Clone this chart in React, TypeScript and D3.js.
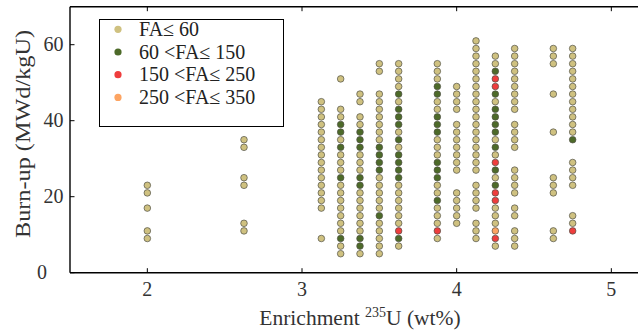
import React from "react";
import * as d3 from "d3";

const W = 638;
const H = 334;

// Enrichment (wt% U-235) of each fuel-assembly group
const enrichment = [2.0, 2.625, 3.125, 3.25, 3.375, 3.5, 3.625, 3.875, 4.0, 4.125, 4.25, 4.375, 4.625, 4.75];

// Burn-up values (MWd/kgU) present at each enrichment
const burnup: number[][] = [
  [23, 21, 17, 11, 9],
  [35, 33, 25, 23, 13, 11],
  [45, 43, 41, 39, 37, 35, 33, 31, 29, 27, 25, 23, 21, 19, 17, 9],
  [51, 43, 41, 39, 37, 35, 33, 31, 29, 27, 25, 23, 21, 19, 17, 15, 13, 11, 9, 7, 5],
  [47, 45, 41, 39, 37, 35, 33, 31, 29, 27, 25, 23, 21, 19, 17, 15, 13, 11, 9, 7, 5],
  [55, 53, 47, 45, 43, 41, 39, 37, 35, 33, 31, 29, 27, 25, 23, 21, 19, 17, 15, 13, 11, 9, 7, 5],
  [55, 53, 51, 49, 47, 45, 43, 41, 39, 37, 35, 33, 31, 29, 27, 25, 23, 21, 19, 17, 15, 13, 11, 9, 7],
  [55, 53, 51, 49, 47, 45, 43, 41, 39, 37, 35, 33, 31, 29, 27, 25, 23, 21, 19, 17, 15, 13, 11, 9],
  [49, 47, 45, 43, 39, 37, 35, 33, 31, 29, 27, 21, 19, 17, 15, 13],
  [61, 59, 57, 55, 53, 51, 49, 47, 45, 43, 41, 39, 37, 35, 33, 31, 29, 27, 23, 21, 19, 17, 13, 11, 9],
  [57, 55, 53, 51, 49, 47, 45, 43, 41, 39, 37, 35, 33, 31, 29, 27, 25, 23, 21, 19, 17, 15, 13, 11, 9, 7],
  [59, 57, 55, 53, 51, 49, 47, 45, 43, 39, 37, 35, 33, 27, 25, 23, 21, 17, 15, 11, 9, 7],
  [59, 57, 55, 47, 37, 25, 23, 21, 11, 9],
  [59, 57, 55, 53, 51, 49, 47, 45, 43, 41, 39, 37, 35, 29, 27, 25, 23, 15, 13, 11],
];

// Burn-ups whose assembly count falls in 60 < FA ≤ 150
const faMid: number[][] = [
  [], [], [],
  [39, 37, 33, 25, 9],
  [37, 35, 33, 25, 23, 9, 7],
  [33, 31, 29, 27, 15],
  [47, 43, 41, 39, 35, 31, 29, 27, 25, 9],
  [49, 47, 41, 39, 37, 29, 27, 25, 19],
  [], [],
  [53, 47, 43, 41, 39, 37, 33, 27, 23],
  [], [],
  [35],
];

// Burn-ups in 150 < FA ≤ 250
const faHigh: number[][] = [
  [], [], [], [], [], [],
  [11],
  [11],
  [], [],
  [51, 49, 29, 21, 19, 9],
  [], [],
  [11],
];

// Burn-ups in 250 < FA ≤ 350
const faTop: number[][] = [
  [], [], [], [], [], [], [], [], [], [],
  [11],
  [], [], [],
];

const classLabels = ["FA≤ 60", "60 <FA≤ 150", "150 <FA≤ 250", "250 <FA≤ 350"];
const classColors = ["#cfc180", "#4d6a29", "#ef3d3d", "#fda462"];

const xTicks = [2, 3, 4, 5];
const yTicks = [0, 20, 40, 60];

const FONT = "'Liberation Serif', 'DejaVu Serif', serif";

type Pt = { x: number; y: number; cls: number };

function buildPoints(): Pt[] {
  const pts: Pt[] = [];
  enrichment.forEach((e, i) => {
    burnup[i].forEach((b) => {
      let cls = 0;
      if (faMid[i].includes(b)) cls = 1;
      if (faHigh[i].includes(b)) cls = 2;
      if (faTop[i].includes(b)) cls = 3;
      pts.push({ x: e, y: b, cls });
    });
  });
  // draw classes in series order
  return pts.sort((a, b) => a.cls - b.cls);
}

export default function App() {
  const left = 70;
  const right = 650;
  const top = 6.7;
  const bottom = 272.7;
  const x = d3.scaleLinear().domain([1.5, 5.25]).range([left, right]);
  const y = d3.scaleLinear().domain([0, 70]).range([bottom, top]);
  const pts = buildPoints();
  const tickLen = 4.5;

  return (
    <svg
      width={W}
      height={H}
      viewBox={`0 0 ${W} ${H}`}
      style={{ position: "fixed", left: 0, top: 0, background: "#fff" }}
      fontFamily={FONT}
    >
      <rect x={0} y={0} width={W} height={H} fill="#fff" />

      {/* markers */}
      {pts.map((p, i) => (
        <circle
          key={i}
          cx={x(p.x)}
          cy={y(p.y)}
          r={3.3}
          fill={classColors[p.cls]}
          stroke="#505046"
          strokeWidth={0.7}
        />
      ))}

      {/* frame */}
      <line x1={left} x2={right} y1={top} y2={top} stroke="#000" strokeWidth={1.4} />
      <line x1={left} x2={right} y1={bottom} y2={bottom} stroke="#000" strokeWidth={1.4} />
      <line x1={left} x2={left} y1={top} y2={bottom} stroke="#000" strokeWidth={1.4} />

      {/* x ticks */}
      {xTicks.map((t) => (
        <g key={`x${t}`}>
          <line x1={x(t)} x2={x(t)} y1={bottom} y2={bottom - tickLen} stroke="#000" strokeWidth={1} />
          <line x1={x(t)} x2={x(t)} y1={top} y2={top + tickLen} stroke="#000" strokeWidth={1} />
          <text x={x(t)} y={295.5} textAnchor="middle" fontSize={20} fill="#333">
            {t}
          </text>
        </g>
      ))}

      {/* y ticks */}
      {yTicks.map((t) => (
        <g key={`y${t}`}>
          <line x1={left} x2={left + tickLen} y1={y(t)} y2={y(t)} stroke="#000" strokeWidth={1} />
          <text
            x={t === 0 ? 47 : 63.5}
            y={y(t) + 6.5}
            textAnchor="end"
            fontSize={20}
            fill="#333"
          >
            {t}
          </text>
        </g>
      ))}

      {/* axis titles */}
      <text x={(left + right) / 2} y={325} textAnchor="middle" fontSize={21.5} fill="#333">
        <tspan>Enrichment </tspan>
        <tspan dy={-8} fontSize={14}>235</tspan>
        <tspan dy={8}>U (wt%)</tspan>
      </text>
      <text
        transform={`translate(30, 134) rotate(-90)`}
        textAnchor="middle"
        fontSize={21}
        fill="#333"
        textLength={208}
        lengthAdjust="spacingAndGlyphs"
      >
        Burn-up (MWd/kgU)
      </text>

      {/* legend */}
      <rect x={99.5} y={19.5} width={184} height={107} fill="#fff" stroke="#000" strokeWidth={1} />
      {classLabels.map((lab, i) => {
        const cy = 29.3 + i * 22.7;
        return (
          <g key={lab}>
            <circle cx={118} cy={cy} r={3.6} fill={classColors[i]} />
            <text x={139} y={cy + 6.5} fontSize={20} fill="#222">
              {lab}
            </text>
          </g>
        );
      })}
    </svg>
  );
}
